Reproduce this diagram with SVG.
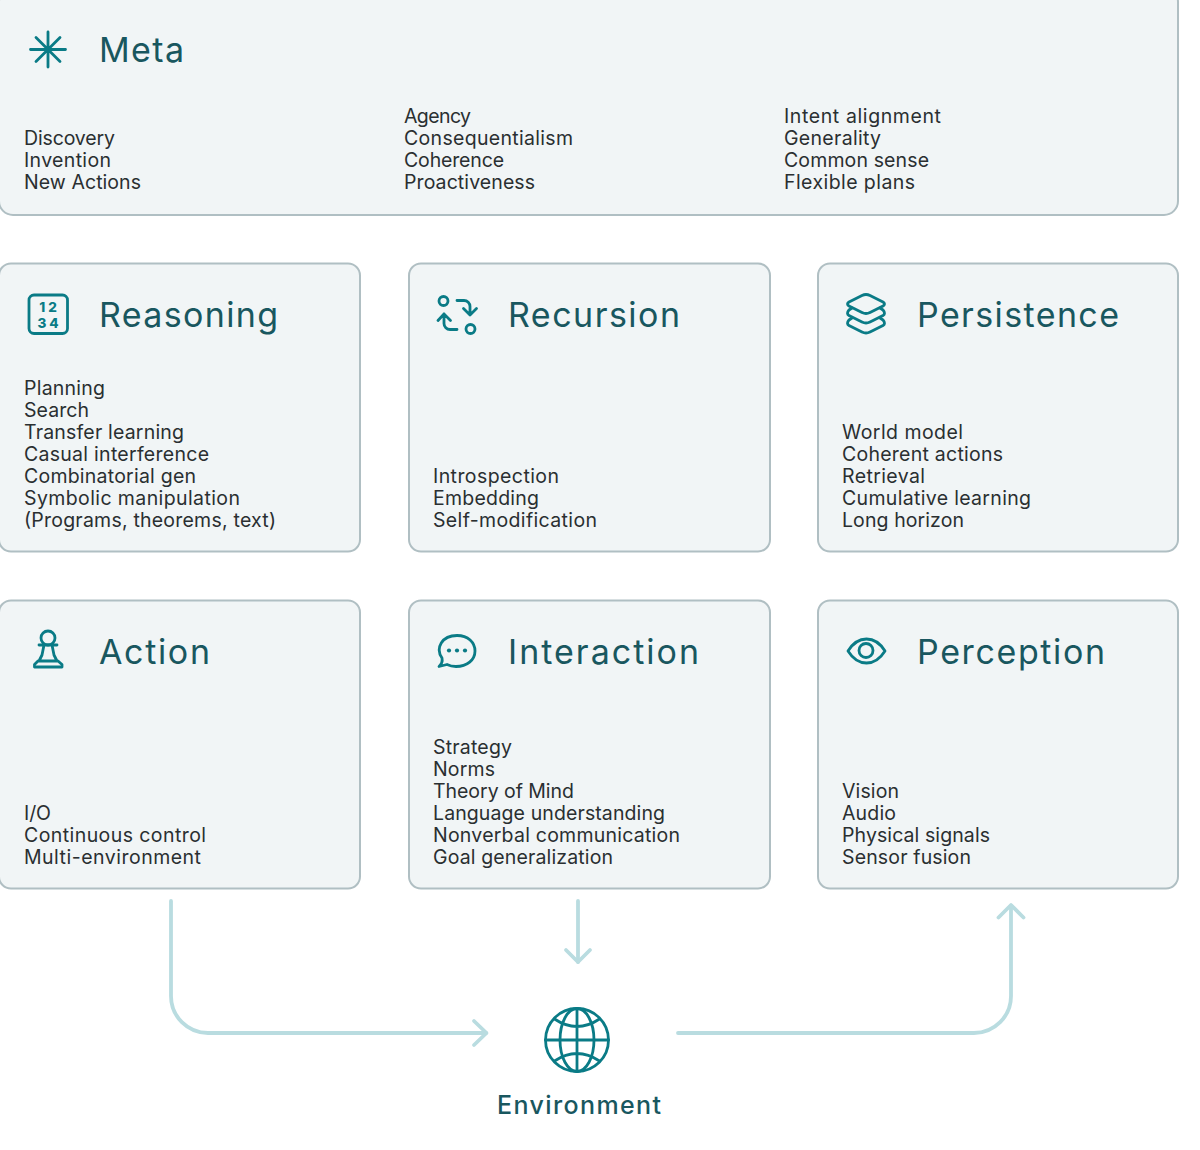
<svg xmlns="http://www.w3.org/2000/svg" width="1200" height="1150" viewBox="0 0 1200 1150">
<style>
.box{fill:#f1f5f6;stroke:#b0bfc3;stroke-width:2}
.t{font-family:"Inter","Noto Sans",sans-serif;font-size:34px;fill:#19575f}
.b{font-family:"Inter","Noto Sans",sans-serif;font-size:19.5px;fill:#2a2f31}
.i{fill:none;stroke:#0a7b86;stroke-width:2.8;stroke-linecap:round;stroke-linejoin:round}
.c{fill:none;stroke:#b9dce0;stroke-width:3.8;stroke-linecap:round;stroke-linejoin:round}
</style>
<g id="connectors">
<path class="c" d="M171 901V996a37 37 0 0 0 37 37H486"/><path class="c" d="M474 1021l12.500 12-12.500 12"/>
<path class="c" d="M578 901V962"/><path class="c" d="M566 950l12 12 12-12"/>
<path class="c" d="M678 1033H974a37 37 0 0 0 37-37V906"/><path class="c" d="M998.500 917.500L1011 905l12.500 12.500"/>
</g>
<g id="meta">
<rect class="box" x="-1" y="-12" width="1179" height="227" rx="14"/>
<path class="i" stroke-width="2.500" d="M48 32V67M30.500 49.500H65.500M36 37.500L60 61.500M60 37.500L36 61.500"/>
<circle cx="48" cy="49.500" r="2.500" fill="#0a7b86"/>
<text class="t" x="99" y="62" textLength="85">Meta</text>
<g class="b"><text x="24" y="145" textLength="91">Discovery</text><text x="24" y="167" textLength="87">Invention</text><text x="24" y="189" textLength="117">New Actions</text>
<text x="404" y="123" textLength="67">Agency</text><text x="404" y="145" textLength="169">Consequentialism</text><text x="404" y="167" textLength="100">Coherence</text><text x="404" y="189" textLength="131">Proactiveness</text>
<text x="784" y="123" textLength="157">Intent alignment</text><text x="784" y="145" textLength="97">Generality</text><text x="784" y="167" textLength="145">Common sense</text><text x="784" y="189" textLength="131">Flexible plans</text></g>
</g>
<g id="reasoning">
<rect class="box" x="-1" y="263.500" width="361" height="288" rx="12"/>
<rect class="i" stroke-width="3" x="29" y="295" width="38.500" height="38.500" rx="5"/>
<text text-anchor="middle" font-family="Inter,sans-serif" font-size="13.500" font-weight="800" letter-spacing="3" fill="#0a7b86"><tspan x="49.500" y="311.500">12</tspan><tspan x="49.500" y="328">34</tspan></text>
<text class="t" x="99" y="327" textLength="179">Reasoning</text>
<g class="b"><text x="24" y="395" textLength="81">Planning</text><text x="24" y="417" textLength="65">Search</text><text x="24" y="439" textLength="160">Transfer learning</text><text x="24" y="461" textLength="185">Casual interference</text><text x="24" y="483" textLength="172">Combinatorial gen</text><text x="24" y="505" textLength="216">Symbolic manipulation</text><text x="24" y="527" textLength="252">(Programs, theorems, text)</text></g>
</g>
<g id="recursion">
<rect class="box" x="409" y="263.500" width="361" height="288" rx="12"/>
<circle class="i" cx="443.500" cy="301" r="4.500"/><circle class="i" cx="470.500" cy="329" r="4.500"/>
<path class="i" d="M457 300.500H464a6 6 0 0 1 6 6V315M463.500 308.500L470 315l6.500-6.500"/>
<path class="i" d="M457 329.500H450a6 6 0 0 1-6-6V314M438 320.500L444 314l6.500 6.500"/>
<text class="t" x="508" y="327" textLength="172">Recursion</text>
<g class="b"><text x="433" y="483" textLength="126">Introspection</text><text x="433" y="505" textLength="106">Embedding</text><text x="433" y="527" textLength="164">Self-modification</text></g>
</g>
<g id="persistence">
<rect class="box" x="818" y="263.500" width="360" height="288" rx="12"/>
<path class="i" d="M862 295.500Q866 293.500 870 295.500L883 302Q886 304 883 306L870 312.500Q866 314.500 862 312.500L849 306Q846 304 849 302Z"/>
<path class="i" d="M852 308L849 310Q846 313.500 849 315.500L862 322Q866 324 870 322L883 315.500Q886 313.500 883 310L880 308"/>
<path class="i" d="M852 318L849 320Q846 323.500 849 325.500L862 332Q866 334 870 332L883 325.500Q886 323.500 883 320L880 318"/>
<text class="t" x="917" y="327" textLength="202">Persistence</text>
<g class="b"><text x="842" y="439" textLength="121">World model</text><text x="842" y="461" textLength="161">Coherent actions</text><text x="842" y="483" textLength="83">Retrieval</text><text x="842" y="505" textLength="189">Cumulative learning</text><text x="842" y="527" textLength="122">Long horizon</text></g>
</g>
<g id="action">
<rect class="box" x="-1" y="600.500" width="361" height="288" rx="12"/>
<circle class="i" cx="48" cy="638" r="7"/>
<path class="i" d="M39 645H57M44 645L42 655 39 661H57L54 655 52 645M34.500 667V664.500L38 661H58L62 664.500V667Z"/>
<text class="t" x="99" y="664" textLength="111">Action</text>
<g class="b"><text x="24" y="820" textLength="27">I/O</text><text x="24" y="842" textLength="182">Continuous control</text><text x="24" y="864" textLength="177">Multi-environment</text></g>
</g>
<g id="interaction">
<rect class="box" x="409" y="600.500" width="361" height="288" rx="12"/>
<path class="i" d="M439 666.500Q443 663 442 658C435 648 442 635.500 457 635.500C468 635.500 475 642.500 475 651C475 660 467 666.500 456 666.500C452 666.500 449 665.500 447 664.500Z"/>
<g fill="#0a7b86"><circle cx="449" cy="650.500" r="2.100"/><circle cx="457" cy="650.500" r="2.100"/><circle cx="465" cy="650.500" r="2.100"/></g>
<text class="t" x="508" y="664" textLength="191">Interaction</text>
<g class="b"><text x="433" y="754" textLength="79">Strategy</text><text x="433" y="776" textLength="62">Norms</text><text x="433" y="798" textLength="141">Theory of Mind</text><text x="433" y="820" textLength="232">Language understanding</text><text x="433" y="842" textLength="247">Nonverbal communication</text><text x="433" y="864" textLength="180">Goal generalization</text></g>
</g>
<g id="perception">
<rect class="box" x="818" y="600.500" width="360" height="288" rx="12"/>
<path class="i" d="M848 651C858 635 875 635 885 651C875 667 858 667 848 651Z"/>
<circle class="i" cx="866" cy="650.500" r="7"/>
<text class="t" x="917" y="664" textLength="188">Perception</text>
<g class="b"><text x="842" y="798" textLength="57">Vision</text><text x="842" y="820" textLength="54">Audio</text><text x="842" y="842" textLength="148">Physical signals</text><text x="842" y="864" textLength="129">Sensor fusion</text></g>
</g>
<g id="environment">
<circle class="i" cx="577" cy="1040" r="31.500"/>
<ellipse class="i" cx="577" cy="1040" rx="17" ry="31.500"/>
<path class="i" d="M577 1008.500V1071.500M545.500 1040H608.500M554.500 1019Q577 1034 599.500 1019M554.500 1061Q577 1046 599.500 1061"/>
<text x="497" y="1114" textLength="164" font-family="Inter,sans-serif" font-size="25" font-weight="500" fill="#19575f">Environment</text>
</g>
</svg>
